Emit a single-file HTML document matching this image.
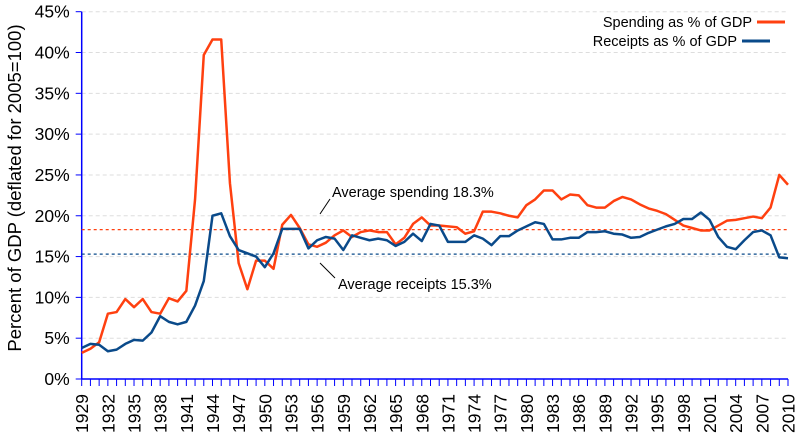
<!DOCTYPE html>
<html><head><meta charset="utf-8"><style>
body{margin:0;background:#fff}
svg{display:block;font-family:"Liberation Sans",sans-serif}
</style></head><body>
<svg id="chart" width="800" height="437" viewBox="0 0 800 437" xmlns="http://www.w3.org/2000/svg">
<g id="grid"></g><g id="axes"></g><g id="series"></g>
<text transform="translate(21,188) rotate(-90)" text-anchor="middle" font-size="18.5">Percent of GDP (deflated for 2005=100)</text>
<g font-size="14.5">
<text x="752" y="27" text-anchor="end">Spending as % of GDP</text>
<line x1="757" y1="22" x2="785" y2="22" stroke="#ff4010" stroke-width="3"/>
<text x="737" y="46" text-anchor="end">Receipts as % of GDP</text>
<line x1="742" y1="41" x2="770" y2="41" stroke="#0a4a8a" stroke-width="3"/>
</g>
<text x="332" y="197" font-size="14.5">Average spending 18.3%</text>
<line x1="330" y1="199" x2="320" y2="214" stroke="#000" stroke-width="1"/>
<text x="338" y="289" font-size="14.5">Average receipts 15.3%</text>
<line x1="320" y1="263" x2="335" y2="278" stroke="#000" stroke-width="1"/>
</svg>
<script>
const years=[];for(let y=1929;y<=2010;y++)years.push(y);
const spending=[3.2,3.7,4.5,8.0,8.2,9.8,8.8,9.8,8.2,8.0,9.9,9.5,10.8,22,39.7,41.6,41.6,24,14.2,11,14.5,14.5,13.5,18.9,20.1,18.5,16.5,16.2,16.7,17.6,18.2,17.4,18.0,18.2,18.0,18.0,16.5,17.3,19.0,19.8,18.8,18.8,18.7,18.6,17.8,18.1,20.5,20.5,20.3,20.0,19.8,21.3,22.0,23.1,23.1,22.0,22.6,22.5,21.3,21.0,21.0,21.8,22.3,22.0,21.4,20.9,20.6,20.2,19.5,18.8,18.5,18.2,18.2,18.8,19.4,19.5,19.7,19.9,19.7,21.0,25.0,23.8];
const receipts=[3.8,4.3,4.2,3.4,3.6,4.3,4.8,4.7,5.7,7.7,7.0,6.7,7.0,9.0,12.0,20.0,20.3,17.5,15.8,15.4,15.0,13.7,15.4,18.4,18.4,18.4,16.0,17.0,17.4,17.2,15.8,17.6,17.3,17.0,17.2,17.0,16.3,16.8,17.8,16.9,19.0,18.8,16.8,16.8,16.8,17.6,17.2,16.4,17.5,17.5,18.2,18.7,19.2,19.0,17.1,17.1,17.3,17.3,18.0,18.0,18.1,17.8,17.7,17.3,17.4,17.9,18.3,18.7,19.0,19.6,19.6,20.4,19.5,17.4,16.2,15.9,17.0,18.0,18.2,17.6,14.9,14.8];
const yTicks=[0,5,10,15,20,25,30,35,40,45];
const averages=[18.3,15.3];
const NS="http://www.w3.org/2000/svg";
const X0=81.7,X1=788,Y0=379,Y1=11.7;
const xs=y=>X0+(y-1929)*(X1-X0)/81;
const ys=v=>Y0-v*(Y0-Y1)/45;
function mk(t,a,p){const e=document.createElementNS(NS,t);for(const k in a)e.setAttribute(k,a[k]);p.appendChild(e);return e;}
const grid=document.getElementById('grid'),axes=document.getElementById('axes'),ser=document.getElementById('series');
yTicks.forEach(v=>{
 if(v>0){const g=mk('line',{x1:X0,x2:X1,y1:ys(v),y2:ys(v),stroke:'#ddd','stroke-dasharray':'4,3'},grid);
 
 }
 const t=mk('line',{x1:X0-6,x2:X0,y1:ys(v),y2:ys(v),stroke:'#00f'},axes);
 
 
 const l=mk('text',{x:X0-12,y:ys(v)+6,'text-anchor':'end','font-size':'17.5'},axes);l.textContent=v+'%';
 
 
});
const ax=mk('line',{x1:X0,x2:X0,y1:Y1,y2:Y0,stroke:'#00f','stroke-width':1.5},axes);


const bx=mk('line',{x1:X0,x2:X1,y1:Y0,y2:Y0,stroke:'#00f','stroke-width':1.5},axes);


years.forEach((y,i)=>{
 const t=mk('line',{x1:xs(y),x2:xs(y),y1:Y0,y2:Y0+7,stroke:'#00f'},axes);
 
 
 if(i%3===0){const l=mk('text',{transform:`translate(${xs(y)+6.5},${Y0+54}) rotate(-90)`,'font-size':'17.5'},axes);l.textContent=y;
 
 }
});
const cols=['#ff4010','#0a4a8a'];
averages.forEach((a,i)=>{
 const l=mk('line',{x1:X0,x2:X1,y1:ys(a),y2:ys(a),stroke:cols[i],'stroke-dasharray':'3,3','stroke-width':1.3},ser);
 
 
});
[spending,receipts].forEach((d,i)=>{
 const p=mk('polyline',{points:d.map((v,j)=>xs(years[j])+','+ys(v)).join(' '),fill:'none',stroke:cols[i],'stroke-width':2.5,'stroke-linejoin':'round'},ser);
 
 
});
</script>
</body></html>
